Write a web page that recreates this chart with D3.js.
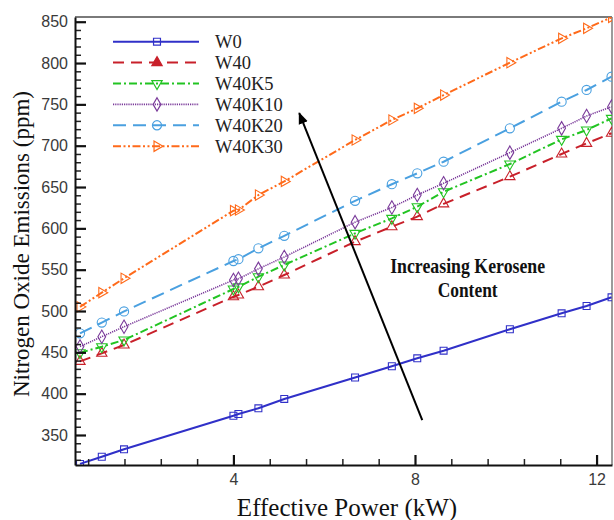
<!DOCTYPE html>
<html>
<head>
<meta charset="utf-8">
<script src="https://cdn.jsdelivr.net/npm/d3@7/dist/d3.min.js"></script>
<style>
  body { margin: 0; background: #fff; }
  .tick text { font-family: Arial, "Liberation Sans", sans-serif; font-size: 16px; fill: #3a3a3a; }
</style>
</head>
<body>
<div id="chart"></div>
<script>
// Data
var power = [0.62, 1.10, 1.59, 4.00, 4.11, 4.55, 5.12, 6.68, 7.49, 8.05, 8.63, 10.09, 11.23, 11.78, 12.33];

var w0     = [315, 323.7, 332.7, 373.3, 375.4, 382.3, 393.6, 419.6, 433.2, 442.8, 452.0, 477.9, 497.2, 506.1, 516.6];
var w40    = [439, 448.8, 458.9, 517.3, 519.4, 529.4, 543.6, 583.9, 602.0, 614.1, 629.6, 662.5, 690.0, 702.8, 715.0];
var w40k5  = [449.5, 456.8, 465.0, 526.6, 529.2, 541.5, 555.7, 594.0, 612.1, 626.2, 644.3, 677.8, 707.7, 719.0, 733.1];
var w40k10 = [457, 468.9, 481.0, 537.5, 539.0, 551.0, 565.4, 607.5, 625.3, 640.4, 654.5, 691.6, 721.0, 735.9, 747.2];
var w40k20 = [473, 486, 499.5, 560.5, 562.7, 575.9, 591, 633.3, 653.4, 666.6, 680.6, 721.0, 753.2, 767.4, 783.5];
var w40k30 = [505, 522.2, 539.6, 621.4, 622.2, 640.3, 656.8, 706.9, 731.1, 745.2, 761.3, 800.4, 829.9, 842.0, 855.3];

var seriesNames = ["W0", "W40", "W40K5", "W40K10", "W40K20", "W40K30"];
var seriesValues = [w0, w40, w40k5, w40k10, w40k20, w40k30];

var yTicks = [350, 400, 450, 500, 550, 600, 650, 700, 750, 800, 850];
var xTicks = [4, 8, 12];

// Styles for each series
var styles = [
  { color: "#3030c8", dash: null, width: 2, symbol: d3.symbolSquare, size: 48, rot: 0 },
  { color: "#c8202a", dash: "11,7", width: 2, symbol: d3.symbolTriangle, size: 46, rot: 0 },
  { color: "#22c422", dash: "8,3,2,3", width: 2, symbol: d3.symbolTriangle, size: 46, rot: 180 },
  { color: "#7a3a9a", dash: "1.2,1", width: 1.6, symbol: d3.symbolDiamond, size: 52, rot: 0 },
  { color: "#4aa0e0", dash: "13,7", width: 2, symbol: d3.symbolCircle, size: 66, rot: 0 },
  { color: "#ff6a1a", dash: "8,2.5,2,2.5,2,2.5", width: 2, symbol: d3.symbolTriangle, size: 46, rot: 90 }
];

// Step 1: Set up the chart
//= ================================
var svgWidth = 614;
var svgHeight = 520;
var plot = { left: 75, right: 612, top: 17, bottom: 465 };

var svg = d3.select("#chart")
  .append("svg")
  .attr("width", svgWidth)
  .attr("height", svgHeight);

var x = d3.scaleLinear().domain([0.51, 12.34]).range([plot.left, plot.right]);
var y = d3.scaleLinear().domain([313.7, 855.7]).range([plot.bottom, plot.top]);

svg.append("clipPath")
  .attr("id", "plotClip")
  .append("rect")
  .attr("x", plot.left)
  .attr("y", plot.top)
  .attr("width", plot.right - plot.left)
  .attr("height", plot.bottom - plot.top);

// Step 2: Frame (top and right are grey)
//= ================================
svg.append("line")
  .attr("x1", plot.left).attr("x2", plot.right)
  .attr("y1", plot.top).attr("y2", plot.top)
  .attr("stroke", "#7a7a7a").attr("stroke-width", 1.8);
svg.append("line")
  .attr("x1", plot.right).attr("x2", plot.right)
  .attr("y1", plot.top).attr("y2", plot.bottom)
  .attr("stroke", "#7a7a7a").attr("stroke-width", 1.5);

// Step 3: Series lines and markers
//= ================================
var line = d3.line()
  .x(d => x(d[0]))
  .y(d => y(d[1]));

var seriesGroup = svg.append("g").attr("clip-path", "url(#plotClip)");

seriesValues.forEach(function(vals, i) {
  var pts = power.map((p, j) => [p, vals[j]]);
  var st = styles[i];

  seriesGroup.append("path")
    .datum(pts)
    .attr("d", line)
    .attr("fill", "none")
    .attr("stroke", st.color)
    .attr("stroke-width", st.width)
    .attr("stroke-dasharray", st.dash);

  seriesGroup.selectAll(".mk" + i)
    .data(pts)
    .enter()
    .append("path")
    .attr("class", "mk" + i)
    .attr("d", d3.symbol().type(st.symbol).size(st.size))
    .attr("transform", d => `translate(${x(d[0])},${y(d[1])}) rotate(${st.rot})`)
    .attr("fill", "none")
    .attr("stroke", st.color)
    .attr("stroke-width", 1.1);
});

// Step 4: Axes with inward ticks
//= ================================
var yMinor = d3.range(320, 856, 10).filter(v => v % 50 !== 0);
var xMinor = d3.range(0.8, 12.4, 0.8).filter(v => Math.abs(v % 4) > 0.01 && Math.abs(v % 4 - 4) > 0.01);

svg.append("g")
  .attr("transform", `translate(${plot.left},0)`)
  .call(d3.axisLeft(y).tickValues(yMinor).tickSizeInner(-6).tickSizeOuter(0).tickFormat(""))
  .call(g => g.select(".domain").remove())
  .selectAll("line").attr("stroke", "#222").attr("stroke-width", 1.5);

svg.append("g")
  .attr("transform", `translate(${plot.left},0)`)
  .call(d3.axisLeft(y).tickValues(yTicks).tickSizeInner(-11).tickSizeOuter(0).tickPadding(7))
  .call(g => g.select(".domain").attr("stroke", "#111").attr("stroke-width", 2))
  .selectAll("line").attr("stroke", "#111").attr("stroke-width", 2.2);

svg.append("g")
  .attr("transform", `translate(0,${plot.bottom})`)
  .call(d3.axisBottom(x).tickValues(xMinor).tickSizeInner(-6).tickSizeOuter(0).tickFormat(""))
  .call(g => g.select(".domain").remove())
  .selectAll("line").attr("stroke", "#222").attr("stroke-width", 1.5);

svg.append("g")
  .attr("transform", `translate(0,${plot.bottom})`)
  .call(d3.axisBottom(x).tickValues(xTicks).tickSizeInner(-10).tickSizeOuter(0).tickPadding(9))
  .call(g => g.select(".domain").attr("stroke", "#111").attr("stroke-width", 2))
  .selectAll("line").attr("stroke", "#111").attr("stroke-width", 2.2);

// Step 5: Axis titles
//= ================================
svg.append("text")
  .attr("transform", `translate(29, 244) rotate(-90)`)
  .attr("text-anchor", "middle")
  .attr("font-family", "'Liberation Serif', 'Times New Roman', serif")
  .attr("font-size", 23)
  .attr("fill", "#111")
  .text("Nitrogen Oxide Emissions (ppm)");

svg.append("text")
  .attr("x", 347)
  .attr("y", 516)
  .attr("text-anchor", "middle")
  .attr("font-family", "'Liberation Serif', 'Times New Roman', serif")
  .attr("font-size", 25)
  .attr("fill", "#111")
  .text("Effective Power (kW)");

// Step 6: Legend
//= ================================
var legend = svg.append("g").attr("transform", "translate(113, 41.7)");

seriesNames.forEach(function(name, i) {
  var st = styles[i];
  var row = legend.append("g").attr("transform", `translate(0, ${i * 20.9})`);
  row.append("line")
    .attr("x1", 0).attr("x2", 86)
    .attr("stroke", st.color)
    .attr("stroke-width", st.width)
    .attr("stroke-dasharray", st.dash);
  row.append("path")
    .attr("d", d3.symbol().type(st.symbol).size(st.size))
    .attr("transform", `translate(44,0) rotate(${st.rot})`)
    .attr("fill", i === 1 ? st.color : "none")
    .attr("stroke", st.color)
    .attr("stroke-width", 1.2);
  row.append("text")
    .attr("x", 102)
    .attr("dy", "0.35em")
    .attr("font-family", "'Liberation Serif', 'Times New Roman', serif")
    .attr("font-size", 18.5)
    .attr("fill", "#222")
    .text(name);
});

// Step 7: Arrow annotation
//= ================================
var arrowTail = [8.16, 368];
var arrowTip = [5.45, 739.5];

svg.append("defs").append("marker")
  .attr("id", "arrowHead")
  .attr("viewBox", "0 0 10 10")
  .attr("refX", 9).attr("refY", 5)
  .attr("markerWidth", 6).attr("markerHeight", 6)
  .attr("markerUnits", "strokeWidth")
  .attr("orient", "auto")
  .append("path")
  .attr("d", "M0,1 L10,5 L0,9 Z")
  .attr("fill", "#000");

svg.append("line")
  .attr("x1", x(arrowTail[0])).attr("y1", y(arrowTail[1]))
  .attr("x2", x(arrowTip[0])).attr("y2", y(arrowTip[1]))
  .attr("stroke", "#000")
  .attr("stroke-width", 2)
  .attr("marker-end", "url(#arrowHead)");

var note = svg.append("text")
  .attr("text-anchor", "middle")
  .attr("font-family", "'Liberation Serif', 'Times New Roman', serif")
  .attr("font-weight", "bold")
  .attr("font-size", 21)
  .attr("fill", "#111");
note.append("tspan")
  .attr("x", x(9.16)).attr("y", y(546))
  .attr("textLength", 155).attr("lengthAdjust", "spacingAndGlyphs")
  .text("Increasing Kerosene");
note.append("tspan")
  .attr("x", x(9.16)).attr("y", y(517))
  .attr("textLength", 60).attr("lengthAdjust", "spacingAndGlyphs")
  .text("Content");
</script>
</body>
</html>
